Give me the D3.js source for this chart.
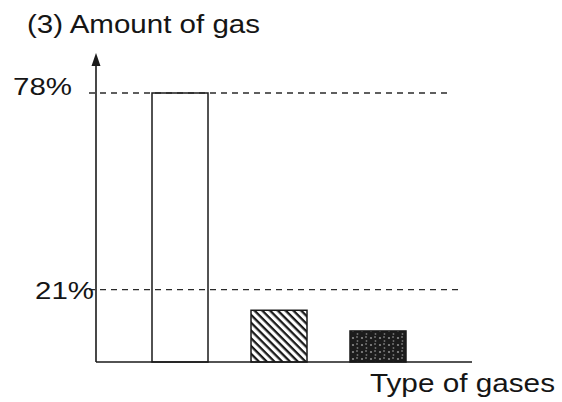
<!DOCTYPE html>
<html>
<head>
<meta charset="utf-8">
<script src="https://cdn.jsdelivr.net/npm/d3@7/dist/d3.min.js"></script>
<style>
  html, body { margin: 0; padding: 0; background: #fff; }
  svg { display: block; }
  text { font-family: "Liberation Sans", Arial, sans-serif; fill: #151515; }
</style>
</head>
<body>
<svg id="chart" width="562" height="402"></svg>
<script>
// ---- data ----
const categories = ["Gas A", "Gas B", "Gas C"];
const amounts = [78, 15, 9];
const fills = ["plain", "hatch", "dark"];
const referenceValues = [78, 21];
const referenceLabels = ["78%", "21%"];
const titleText = "(3) Amount of gas";
const xAxisTitle = "Type of gases";

// ---- layout ----
const svg = d3.select("#chart");
const axisX = 96, baseY = 362, topY = 93, arrowTipY = 53, axisEndX = 472;

const y = d3.scaleLinear().domain([0, 78]).range([baseY, topY]);
const x = d3.scalePoint().domain(categories).range([180, 378]);
const barW = 56;

// patterns
const defs = svg.append("defs");
const hatch = defs.append("pattern")
  .attr("id", "hatch").attr("patternUnits", "userSpaceOnUse")
  .attr("width", 5.5).attr("height", 5.5)
  .attr("patternTransform", "rotate(45)");
hatch.append("rect").attr("width", 5.5).attr("height", 5.5).attr("fill", "#fff");
hatch.append("rect").attr("x", 0).attr("y", 0).attr("width", 5.5).attr("height", 2.3).attr("fill", "#1a1a1a");

const dark = defs.append("pattern")
  .attr("id", "dark").attr("patternUnits", "userSpaceOnUse")
  .attr("width", 9).attr("height", 7);
dark.append("rect").attr("width", 9).attr("height", 7).attr("fill", "#1c1c1c");
dark.append("circle").attr("cx", 2).attr("cy", 2).attr("r", 1.1).attr("fill", "#8a8a8a");
dark.append("circle").attr("cx", 6.5).attr("cy", 5).attr("r", 0.9).attr("fill", "#6f6f6f");
dark.append("rect").attr("x", 5).attr("y", 0.5).attr("width", 2).attr("height", 1).attr("fill", "#999");

// bars
const fillFor = { plain: "none", hatch: "url(#hatch)", dark: "url(#dark)" };
svg.selectAll(".bar").data(categories).join("rect")
  .attr("class", "bar")
  .attr("x", d => x(d) - barW / 2)
  .attr("width", barW)
  .attr("y", (d, i) => y(amounts[i]))
  .attr("height", (d, i) => y(0) - y(amounts[i]))
  .attr("fill", (d, i) => fillFor[fills[i]])
  .attr("stroke", "#1a1a1a").attr("stroke-width", 1.5);

// reference dashed lines
const refEnds = [452, 462];
svg.selectAll(".ref").data(referenceValues).join("line")
  .attr("class", "ref")
  .attr("x1", 89).attr("x2", (d, i) => refEnds[i])
  .attr("y1", d => y(d)).attr("y2", d => y(d))
  .attr("stroke", "#2a2a2a").attr("stroke-width", 1.3)
  .attr("stroke-dasharray", "6,5");

// axes
svg.append("line")
  .attr("x1", axisX).attr("x2", axisX)
  .attr("y1", baseY).attr("y2", arrowTipY + 8)
  .attr("stroke", "#1a1a1a").attr("stroke-width", 1.6);
svg.append("path")
  .attr("d", `M${axisX},${arrowTipY} L${axisX - 4.5},${arrowTipY + 13} L${axisX + 4.5},${arrowTipY + 13} Z`)
  .attr("fill", "#1a1a1a");
svg.append("line")
  .attr("x1", axisX).attr("x2", axisEndX)
  .attr("y1", y(0)).attr("y2", y(0))
  .attr("stroke", "#1a1a1a").attr("stroke-width", 1.6);

// tick labels
const labelRight = [72, 94];
const labelDy = [2, 9];
svg.selectAll(".tlabel").data(referenceValues).join("text")
  .attr("class", "tlabel")
  .attr("x", (d, i) => labelRight[i] - 59)
  .attr("y", (d, i) => y(d) + labelDy[i])
  .attr("font-size", 24)
  .attr("textLength", 59).attr("lengthAdjust", "spacingAndGlyphs")
  .text((d, i) => referenceLabels[i]);

// titles
svg.append("text")
  .attr("x", 27).attr("y", 33)
  .attr("font-size", 25)
  .attr("textLength", 233).attr("lengthAdjust", "spacingAndGlyphs")
  .text(titleText);
svg.append("text")
  .attr("x", 370).attr("y", 392)
  .attr("font-size", 26)
  .attr("textLength", 185).attr("lengthAdjust", "spacingAndGlyphs")
  .text(xAxisTitle);
</script>
</body>
</html>
